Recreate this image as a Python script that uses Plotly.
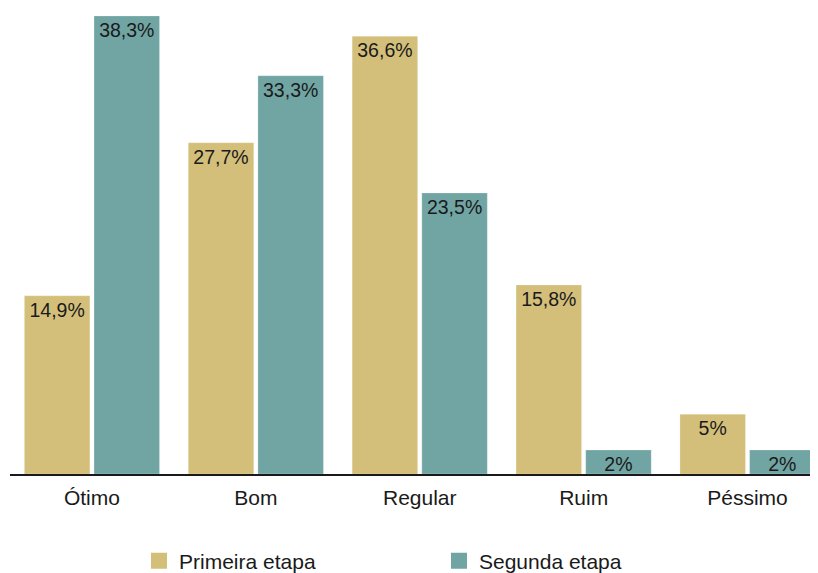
import plotly.graph_objects as go

categories = ["Ótimo", "Bom", "Regular", "Ruim", "Péssimo"]
primeira = [14.9, 27.7, 36.6, 15.8, 5]
segunda = [38.3, 33.3, 23.5, 2, 2]
primeira_labels = ["14,9%", "27,7%", "36,6%", "15,8%", "5%"]
segunda_labels = ["38,3%", "33,3%", "23,5%", "2%", "2%"]
series_names = ["Primeira etapa", "Segunda etapa"]

font_family = "Liberation Sans, Arial, Helvetica, sans-serif"
colors = ["rgb(211,191,122)", "rgb(112,165,164)"]

# page body has an 8px default margin, so the figure is sized to fit the window
W, H = 810, 565

fig = go.Figure()
for vals, labels, name, col in [(primeira, primeira_labels, series_names[0], colors[0]),
                                (segunda, segunda_labels, series_names[1], colors[1])]:
    fig.add_trace(go.Bar(
        x=categories, y=vals, name=name, showlegend=False,
        text=labels, textposition="inside", insidetextanchor="end",
        textangle=0, constraintext="none", cliponaxis=False,
        textfont=dict(size=19.5, color="#1a1a1a", family=font_family),
        marker=dict(color=col, line=dict(color="rgba(255,255,255,0.35)", width=0.6)),
    ))
# legend entries with larger square swatches
for name, col in zip(series_names, colors):
    fig.add_trace(go.Scatter(
        x=[None], y=[None], mode="markers", name=name,
        marker=dict(symbol="square", size=18, color=col),
    ))

fig.update_layout(
    width=W, height=H,
    margin=dict(l=0, r=0, t=0, b=0, autoexpand=False),
    barmode="group", bargap=0.15, bargroupgap=0.06,
    plot_bgcolor="white", paper_bgcolor="white",
    font=dict(family=font_family, size=21, color="#1a1a1a"),
    showlegend=True,
    legend=dict(orientation="h", x=131 / W, xanchor="left",
                y=(H - 553) / H, yanchor="middle", itemwidth=30,
                entrywidth=255, font=dict(size=21), itemsizing="trace"),
    xaxis=dict(domain=[2 / W, 1], range=[-0.5, 4.43], showline=True,
               linecolor="#1a1a1a", linewidth=2, ticks="", showgrid=False,
               automargin=False, ticklabelstandoff=4, tickfont=dict(size=21)),
    yaxis=dict(domain=[(H - 466) / H, (H - 8) / H], range=[0, 38.3],
               visible=False, showgrid=False, automargin=False),
)

fig.write_html("out.html")
